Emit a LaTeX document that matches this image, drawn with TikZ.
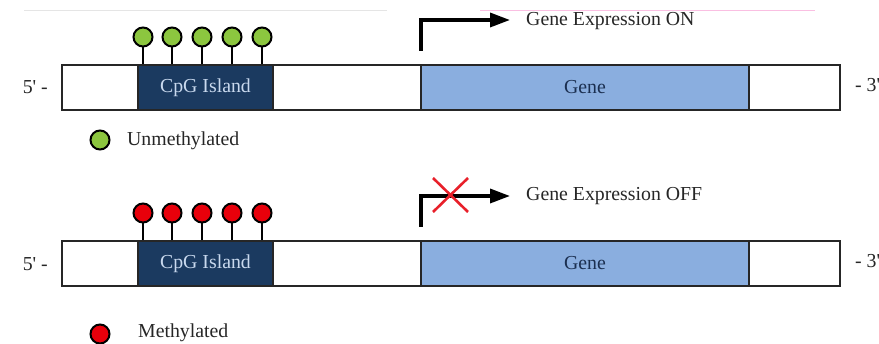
\documentclass[tikz,border=0pt]{standalone}
\usepackage{fontspec}
\setmainfont{Liberation Serif}
\usetikzlibrary{arrows.meta}
\definecolor{cpgblue}{HTML}{1B3A60}
\definecolor{cpgtext}{HTML}{C9D9EE}
\definecolor{genefill}{HTML}{8AAEDF}
\definecolor{genetext}{HTML}{1B2F50}
\definecolor{lgreen}{HTML}{8CC63F}
\definecolor{lred}{HTML}{E8000B}
\definecolor{xred}{HTML}{E8202A}
\begin{document}
\begin{tikzpicture}[x=1pt,y=-1pt,
  font=\fontsize{19.8}{23}\selectfont,
  seg/.style={draw=black!85, line width=2pt, minimum height=45pt, inner sep=0pt, anchor=north west},
  whiteseg/.style={seg, fill=white},
  cpgseg/.style={seg, fill=cpgblue, text=cpgtext},
  geneseg/.style={seg, fill=genefill, text=genetext},
  lolly/.style={circle, draw=black, line width=2pt, minimum size=19pt, inner sep=0pt},
  stem/.style={draw=black, line width=2pt},
  prom/.style={draw=black, line width=3.4pt, -{Triangle[length=20pt,width=14pt]}},
  lbl/.style={anchor=west, inner sep=0pt, text=black!85},
  cross/.style={draw=xred, line width=2.6pt}
]
\useasboundingbox (0,0) rectangle (879,344);
% faint artefact lines at the top
\draw[black!10, line width=0.8pt] (24,10) -- (387,10);
\draw[magenta!25, line width=0.8pt] (480,10) -- (815,10);

% ---------- top row ----------
\node[whiteseg, minimum width=76pt] (w1a) at (61,64) {};
\node[cpgseg, minimum width=135pt] (cpg1) at (137,64) {CpG Island};
\node[whiteseg, minimum width=148pt] (w1b) at (272,64) {};
\node[geneseg, minimum width=328pt] (gene1) at (420,64) {Gene};
\node[whiteseg, minimum width=91pt] (w1c) at (748,64) {};
\node[lbl, anchor=east] (five1) at (48,87) {5\textquotesingle\ -};
\node[lbl] (three1) at (855,85) {- 3\textquotesingle};

\foreach \i/\x in {1/143,2/172,3/202,4/232,5/262}{
  \node[lolly, fill=lgreen] (g\i) at (\x,37) {};
  \draw[stem] (g\i.south) -- (g\i.south |- cpg1.north);
}
\node[lolly, fill=lgreen] (leg1) at (100,140) {};
\node[lbl] (legt1) at (127,141) {Unmethylated};

\coordinate (p1s) at (421,51);
\coordinate (p1e) at (510,20);
\draw[prom] (p1s) |- (p1e);
\node[lbl] (on) at (526,21) {Gene Expression ON};

% ---------- bottom row ----------
\node[whiteseg, minimum width=76pt] (w2a) at (61,240) {};
\node[cpgseg, minimum width=135pt] (cpg2) at (137,240) {CpG Island};
\node[whiteseg, minimum width=148pt] (w2b) at (272,240) {};
\node[geneseg, minimum width=328pt] (gene2) at (420,240) {Gene};
\node[whiteseg, minimum width=91pt] (w2c) at (748,240) {};
\node[lbl, anchor=east] (five2) at (48,264) {5\textquotesingle\ -};
\node[lbl] (three2) at (855,261) {- 3\textquotesingle};

\foreach \i/\x in {1/143,2/172,3/202,4/232,5/262}{
  \node[lolly, fill=lred] (r\i) at (\x,213) {};
  \draw[stem] (r\i.south) -- (r\i.south |- cpg2.north);
}
\node[lolly, fill=lred] (leg2) at (100,334) {};
\node[lbl] (legt2) at (138,333) {Methylated};

\coordinate (p2s) at (421,227);
\coordinate (p2e) at (510,196);
\draw[prom] (p2s) |- (p2e);
\coordinate (xa) at (433,178);
\coordinate (xb) at (468,212);
\coordinate (xc) at (468,178);
\coordinate (xd) at (433,212);
\draw[cross] (xa) -- (xb);
\draw[cross] (xc) -- (xd);
\node[lbl] (off) at (526,196) {Gene Expression OFF};
\end{tikzpicture}
\end{document}
